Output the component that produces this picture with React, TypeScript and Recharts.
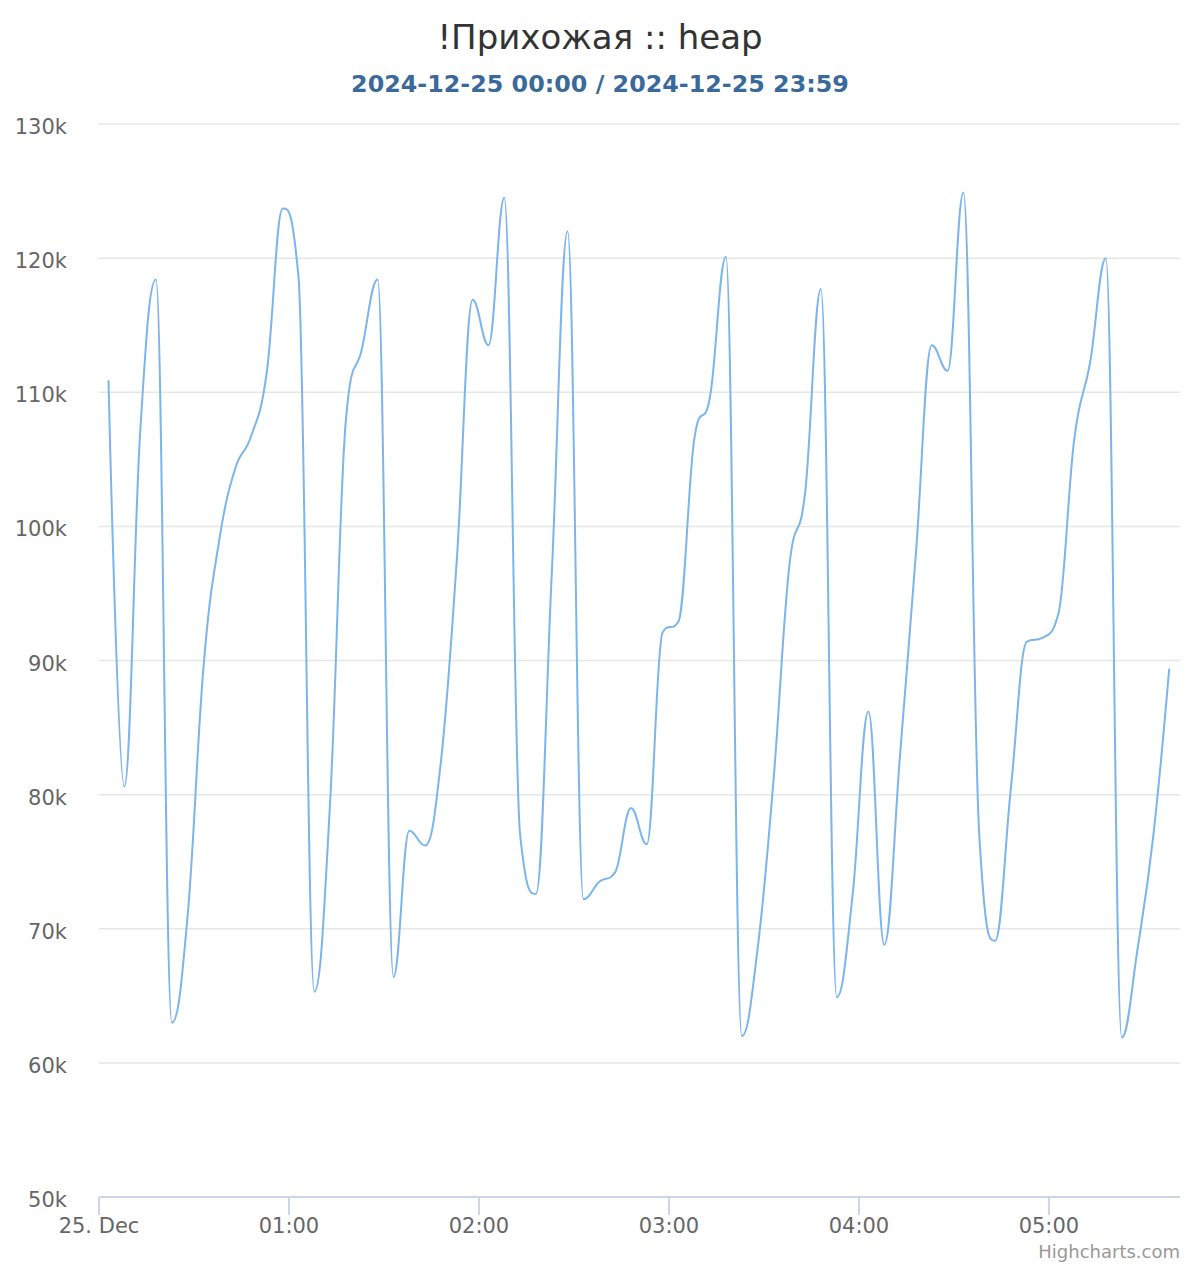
import React from "react";
import { LineChart, Line, XAxis, YAxis, CartesianGrid } from "recharts";

const TITLE = "!Прихожая :: heap";
const SUBTITLE = "2024-12-25 00:00 / 2024-12-25 23:59";
const CREDIT = "Highcharts.com";

const times: string[] = [
  "00:03", "00:08", "00:13", "00:18", "00:23", "00:28", "00:33", "00:38", "00:43", "00:48",
  "00:53", "00:58", "01:03", "01:08", "01:13", "01:18", "01:23", "01:28", "01:33", "01:38",
  "01:43", "01:48", "01:53", "01:58", "02:03", "02:08", "02:13", "02:18", "02:23", "02:28",
  "02:33", "02:38", "02:43", "02:48", "02:53", "02:58", "03:03", "03:08", "03:13", "03:18",
  "03:23", "03:28", "03:33", "03:38", "03:43", "03:48", "03:53", "03:58", "04:03", "04:08",
  "04:13", "04:18", "04:23", "04:28", "04:33", "04:38", "04:43", "04:48", "04:53", "04:58",
  "05:03", "05:08", "05:13", "05:18", "05:23", "05:28", "05:33", "05:38",
];

const heap: number[] = [
  110900, 80600, 107000, 118400, 63000, 71000, 89500, 99000, 104300, 106700,
  111500, 123700, 118600, 65300, 79500, 108000, 113200, 118400, 66400, 77300,
  76200, 82500, 97500, 116900, 113500, 124500, 77000, 72600, 96500, 122000,
  72200, 73500, 74200, 79000, 76300, 92100, 92900, 106500, 109700, 120100,
  62000, 68500, 81000, 97000, 102500, 117700, 64900, 72500, 86200, 68800,
  83000, 98000, 113500, 111600, 124900, 77000, 69100, 80500, 91400, 91700,
  93500, 106500, 112200, 120000, 61900, 68500, 77000, 89400,
];

const xTickValues: number[] = [0, 60, 120, 180, 240, 300];
const xTickLabels: string[] = ["25. Dec", "01:00", "02:00", "03:00", "04:00", "05:00"];
const yTickValues: number[] = [50000, 60000, 70000, 80000, 90000, 100000, 110000, 120000, 130000];

const toMinutes = (t: string) => {
  const [h, m] = t.split(":").map(Number);
  return h * 60 + m;
};

const data = times.map((t, i) => ({ t: toMinutes(t), v: heap[i] }));

// Highcharts-style spline (smoothing 1.5) as a d3 curve factory
function highchartsSpline(context: any) {
  let xs: number[] = [];
  let ys: number[] = [];
  return {
    areaStart() {},
    areaEnd() {},
    lineStart() {
      xs = [];
      ys = [];
    },
    point(x: number, y: number) {
      xs.push(+x);
      ys.push(+y);
    },
    lineEnd() {
      const n = xs.length;
      if (!n) return;
      const sm = 1.5;
      const den = sm + 1;
      const lcx: (number | null)[] = new Array(n).fill(null);
      const lcy: (number | null)[] = new Array(n).fill(null);
      const rcx: (number | null)[] = new Array(n).fill(null);
      const rcy: (number | null)[] = new Array(n).fill(null);
      for (let i = 1; i < n - 1; i++) {
        const px = xs[i], py = ys[i];
        const lx = xs[i - 1], ly = ys[i - 1];
        const nx = xs[i + 1], ny = ys[i + 1];
        const leftX = (sm * px + lx) / den;
        let leftY = (sm * py + ly) / den;
        const rightX = (sm * px + nx) / den;
        let rightY = (sm * py + ny) / den;
        if (rightX !== leftX) {
          const corr = ((rightY - leftY) * (rightX - px)) / (rightX - leftX) + py - rightY;
          leftY += corr;
          rightY += corr;
        }
        if (leftY > ly && leftY > py) {
          leftY = Math.max(ly, py);
          rightY = 2 * py - leftY;
        } else if (leftY < ly && leftY < py) {
          leftY = Math.min(ly, py);
          rightY = 2 * py - leftY;
        }
        if (rightY > ny && rightY > py) {
          rightY = Math.max(ny, py);
          leftY = 2 * py - rightY;
        } else if (rightY < ny && rightY < py) {
          rightY = Math.min(ny, py);
          leftY = 2 * py - rightY;
        }
        lcx[i] = leftX;
        lcy[i] = leftY;
        rcx[i] = rightX;
        rcy[i] = rightY;
      }
      context.moveTo(xs[0], ys[0]);
      for (let i = 1; i < n; i++) {
        context.bezierCurveTo(
          rcx[i - 1] ?? xs[i - 1],
          rcy[i - 1] ?? ys[i - 1],
          lcx[i] ?? xs[i],
          lcy[i] ?? ys[i],
          xs[i],
          ys[i]
        );
      }
    },
  };
}

const FONT = '"DejaVu Sans", Verdana, sans-serif';

const XTick = (props: any) => {
  const { x, y, payload } = props;
  const idx = xTickValues.indexOf(payload.value);
  return (
    <text x={x} y={y} dy={14} textAnchor="middle" fill="#666666" fontSize={21} fontFamily={FONT}>
      {idx >= 0 ? xTickLabels[idx] : ""}
    </text>
  );
};

const YTick = (props: any) => {
  const { x, y, payload } = props;
  return (
    <text x={x} y={y} dy={10} textAnchor="end" fill="#666666" fontSize={21} fontFamily={FONT}>
      {`${Math.round(payload.value / 1000)}k`}
    </text>
  );
};

export default function App() {
  return (
    <div style={{ position: "absolute", left: 0, top: 0, width: 1200, height: 1268, background: "#fff" }}>
      <LineChart
        width={1200}
        height={1268}
        data={data}
        margin={{ top: 124, right: 20, left: 0, bottom: 0 }}
      >
        <CartesianGrid vertical={false} stroke="#e6e6e6" strokeWidth={1.5} />
        <XAxis
          dataKey="t"
          type="number"
          domain={[0, 341.4]}
          ticks={xTickValues}
          height={71}
          stroke="#ccd6eb"
          strokeWidth={2}
          tickSize={18}
          tickMargin={4}
          tickLine={{ stroke: "#ccd6eb", strokeWidth: 2 }}
          tick={<XTick />}
          interval={0}
          allowDataOverflow
        />
        <YAxis
          type="number"
          domain={[50000, 130000]}
          ticks={yTickValues}
          width={99}
          axisLine={false}
          tickLine={false}
          tickSize={0}
          tickMargin={32}
          tick={<YTick />}
          interval={0}
          allowDataOverflow
        />
        <Line
          dataKey="v"
          type={highchartsSpline as any}
          stroke="#7cb5ec"
          strokeWidth={2}
          dot={false}
          activeDot={false}
          isAnimationActive={false}
        />
      </LineChart>
      <svg
        width={1200}
        height={1268}
        style={{ position: "absolute", left: 0, top: 0, pointerEvents: "none" }}
      >
        <text x={600} y={49} textAnchor="middle" fill="#333333" fontSize={34} fontFamily={FONT}>
          {TITLE}
        </text>
        <text x={600} y={92} textAnchor="middle" fill="#3a6a9a" fontSize={23.8} fontWeight="bold" fontFamily={FONT}>
          {SUBTITLE}
        </text>
        <text x={1180} y={1258} textAnchor="end" fill="#999999" fontSize={18} fontFamily={FONT}>
          {CREDIT}
        </text>
      </svg>
    </div>
  );
}
